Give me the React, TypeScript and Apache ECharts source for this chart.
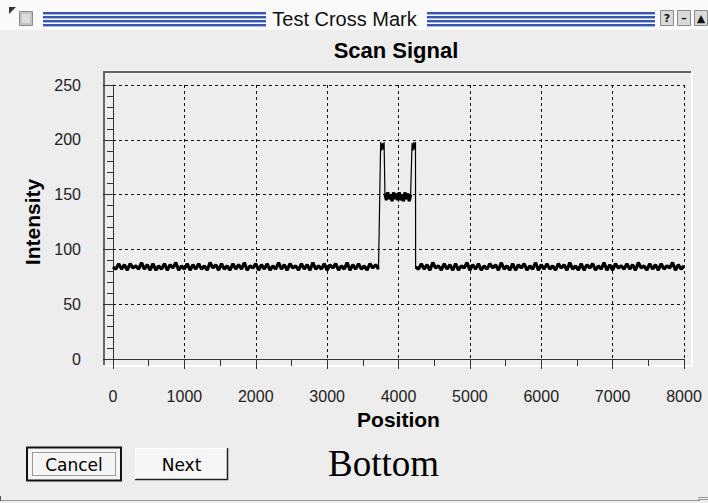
import React, { useEffect, useRef } from "react";
import * as echarts from "echarts";

// ---- Data ----
const chartTitle = "Scan Signal";
const windowTitle = "Test Cross Mark";
const xName = "Position";
const yName = "Intensity";
const xTicks = [0, 1000, 2000, 3000, 4000, 5000, 6000, 7000, 8000];
const yTicks = [0, 50, 100, 150, 200, 250];

// baseline left of the mark: start 0, sample step 40
const baseLeftStart = 0;
const baseLeftStep = 40;
const baseLeft = [
  84, 82, 87, 82, 86, 81, 87, 83, 85, 82, 88, 82, 86, 81, 87, 81, 85, 82, 87, 81,
  86, 83, 88, 81, 85, 82, 87, 81, 86, 82, 87, 82, 85, 81, 88, 83, 86, 81, 87, 82,
  85, 81, 87, 82, 86, 82, 88, 81, 85, 83, 87, 81, 86, 82, 87, 81, 85, 82, 88, 82,
  86, 81, 87, 83, 85, 81, 87, 82, 86, 81, 88, 82, 85, 82, 87, 81, 86, 83, 87, 81,
  85, 82, 88, 81, 86, 82, 87, 82, 85, 81, 87, 83, 86, 82,
];
// first edge peak
const peakLeftStart = 3750;
const peakLeftStep = 12;
const peakLeft = [198, 190, 197, 191, 198];
// plateau between the two peaks
const plateauStart = 3810;
const plateauStep = 20;
const plateau = [
  151, 145, 152, 146, 150, 144, 152, 146, 151, 145, 152, 145, 150, 144, 152, 146,
  151, 144, 150,
];
// second edge peak
const peakRightStart = 4190;
const peakRightStep = 12;
const peakRight = [197, 190, 198, 191, 198];
// baseline right of the mark
const baseRightStart = 4240;
const baseRightStep = 40;
const baseRight = [
  84, 82, 87, 82, 86, 81, 88, 83, 85, 81, 87, 82, 86, 81, 87, 81, 85, 83, 88, 81,
  86, 82, 87, 81, 85, 82, 87, 83, 86, 81, 88, 82, 85, 81, 87, 81, 86, 83, 87, 81,
  85, 82, 88, 81, 86, 82, 87, 82, 85, 81, 87, 83, 86, 81, 88, 82, 85, 81, 87, 81,
  86, 83, 87, 81, 85, 82, 88, 81, 86, 81, 87, 83, 85, 82, 87, 82, 86, 81, 88, 83,
  85, 81, 87, 82, 86, 81, 87, 82, 85, 83, 88, 81, 86, 82, 85,
];

function seg(start: number, step: number, vals: number[]) {
  return vals.map((v, i) => [start + i * step, v]);
}

export default function App() {
  const ref = useRef<HTMLDivElement>(null);
  useEffect(() => {
    if (!ref.current) return;
    const chart = echarts.init(ref.current, null, { renderer: "svg" });
    const left = seg(baseLeftStart, baseLeftStep, baseLeft);
    const pl = seg(peakLeftStart, peakLeftStep, peakLeft);
    const mid = seg(plateauStart, plateauStep, plateau);
    const pr = seg(peakRightStart, peakRightStep, peakRight);
    const right = seg(baseRightStart, baseRightStep, baseRight);
    const data = [...left, ...pl, ...mid, ...pr, ...right];
    // noisy flat parts drawn heavier so they read as a dense band
    const bands = [...left, [null, null], ...mid, [null, null], ...right];

    const labelFont = { fontFamily: "Liberation Sans", fontSize: 16, color: "#222" };
    const nameFont = { fontFamily: "Liberation Sans", fontSize: 21, fontWeight: "bold", color: "#000" };
    const stripe = (x: number, w: number) => ({
      type: "group",
      children: [12, 16, 20, 24].flatMap((y) => [
        { type: "rect", shape: { x, y, width: w, height: 2 }, style: { fill: "#3a55b2" } },
        { type: "rect", shape: { x, y: y + 2, width: w, height: 1 }, style: { fill: "#a6b8ea" } },
      ]),
    });
    const smallBox = (x: number, glyph: string) => ({
      type: "group",
      children: [
        { type: "rect", shape: { x: x + 0.5, y: 10.5, width: 13, height: 15 }, style: { fill: "#d9d9d9", stroke: "#8a8a8a", lineWidth: 1 } },
        { type: "text", x: x + 7, y: 18.5, style: { text: glyph, fontFamily: "DejaVu Sans", fontSize: 11, fontWeight: "bold", fill: "#111", align: "center", verticalAlign: "middle" } },
      ],
    });
    chart.setOption({
      animation: false,
      backgroundColor: "#ededed",
      title: {
        text: chartTitle,
        left: 396,
        top: 39,
        padding: 0,
        textAlign: "center",
        textStyle: { fontFamily: "Liberation Sans", fontSize: 22, fontWeight: "bold", color: "#000" },
      },
      grid: { left: 113, right: 24, top: 85, bottom: 144, containLabel: false },
      xAxis: {
        type: "value",
        min: 0,
        max: 8000,
        interval: 1000,
        offset: 14,
        name: xName,
        nameLocation: "middle",
        nameGap: 33,
        nameTextStyle: nameFont,
        axisLine: { show: true, lineStyle: { color: "#333", width: 1 } },
        axisTick: { show: true, length: 10, lineStyle: { color: "#333" } },
        minorTick: { show: true, splitNumber: 2, length: 7, lineStyle: { color: "#333" } },
        axisLabel: { ...labelFont, margin: 15, formatter: (v: number) => (xTicks.includes(v) ? String(v) : "") },
        splitLine: { show: true, lineStyle: { color: "#111", type: [3, 3], width: 1 } },
      },
      yAxis: {
        type: "value",
        min: 0,
        max: 250,
        interval: 50,
        offset: 15,
        name: yName,
        nameLocation: "middle",
        nameGap: 50,
        nameRotate: 90,
        nameTextStyle: nameFont,
        axisLine: { show: true, lineStyle: { color: "#333", width: 1 } },
        axisTick: { show: true, length: 10, lineStyle: { color: "#333" } },
        minorTick: { show: true, splitNumber: 5, length: 6, lineStyle: { color: "#333" } },
        axisLabel: { ...labelFont, margin: 17, formatter: (v: number) => (yTicks.includes(v) ? String(v) : "") },
        splitLine: { show: true, lineStyle: { color: "#111", type: [3, 3], width: 1 } },
      },
      series: [
        {
          type: "line",
          data,
          showSymbol: false,
          symbol: "none",
          lineStyle: { color: "#000", width: 1.2 },
          z: 3,
        },
        {
          type: "line",
          data: bands,
          connectNulls: false,
          showSymbol: false,
          symbol: "none",
          lineStyle: { color: "#000", width: 3.2, join: "bevel", cap: "butt" },
          z: 3,
        },
      ],
      graphic: [
        // title bar
        { type: "rect", shape: { x: 0, y: 0, width: 708, height: 30 }, style: { fill: "#fafafa" }, z: -1 },
        { type: "polygon", shape: { points: [[9, 7], [16, 7], [9, 14]] }, style: { fill: "#333" } },
        { type: "rect", shape: { x: 19.5, y: 11.5, width: 13, height: 14 }, style: { fill: "#c4c4c4", stroke: "#8a8a8a", lineWidth: 1 } },
        { type: "rect", shape: { x: 22, y: 14, width: 8, height: 9 }, style: { fill: "#dcdcdc" } },
        stripe(43, 223),
        stripe(427, 228),
        {
          type: "text",
          x: 344.5,
          y: 19,
          style: { text: windowTitle, fontFamily: "Liberation Sans", fontSize: 20, fill: "#111", align: "center", verticalAlign: "middle" },
        },
        smallBox(660, "?"),
        smallBox(677, "–"),
        smallBox(694, "▲"),
        // plot frame (sunken)
        { type: "polyline", shape: { points: [[104, 365], [104, 72], [691, 72]] }, style: { stroke: "#666", lineWidth: 2, fill: "none" } },
        { type: "polyline", shape: { points: [[105, 366], [692, 366], [692, 73]] }, style: { stroke: "#ffffff", lineWidth: 2, fill: "none" } },
        // Cancel button (default)
        { type: "rect", shape: { x: 27, y: 447.5, width: 94, height: 33 }, style: { fill: "#f4f4f4", stroke: "#111", lineWidth: 2 } },
        { type: "rect", shape: { x: 32.5, y: 452.5, width: 83, height: 23 }, style: { fill: "none", stroke: "#444", lineWidth: 1, lineDash: [1, 1] } },
        { type: "text", x: 74, y: 465, style: { text: "Cancel", fontFamily: "DejaVu Sans", fontSize: 17, fill: "#000", align: "center", verticalAlign: "middle" } },
        // Next button
        { type: "rect", shape: { x: 135, y: 448, width: 93, height: 32 }, style: { fill: "#f6f6f6" } },
        { type: "polyline", shape: { points: [[135, 479.5], [227.5, 479.5], [227.5, 448]] }, style: { stroke: "#222", lineWidth: 1.5, fill: "none" } },
        { type: "polyline", shape: { points: [[135.5, 479], [135.5, 448.5], [227, 448.5]] }, style: { stroke: "#ffffff", lineWidth: 1, fill: "none" } },
        { type: "text", x: 181.5, y: 465, style: { text: "Next", fontFamily: "DejaVu Sans", fontSize: 17, fill: "#000", align: "center", verticalAlign: "middle" } },
        // Bottom label
        { type: "text", x: 383.5, y: 463, style: { text: "Bottom", fontFamily: "Liberation Serif", fontSize: 37, fill: "#000", align: "center", verticalAlign: "middle" } },
        // bottom window edge
        { type: "line", shape: { x1: 0, y1: 500.5, x2: 700, y2: 500.5 }, style: { stroke: "#9a9a9a", lineWidth: 1 } },
        { type: "line", shape: { x1: 0.5, y1: 496, x2: 0.5, y2: 501 }, style: { stroke: "#555", lineWidth: 1 } },
        { type: "line", shape: { x1: 698, y1: 497.5, x2: 708, y2: 497.5 }, style: { stroke: "#999", lineWidth: 1 } },
        { type: "line", shape: { x1: 698, y1: 499.5, x2: 708, y2: 499.5 }, style: { stroke: "#999", lineWidth: 1 } },
      ],
    });
    return () => chart.dispose();
  }, []);
  return <div ref={ref} style={{ position: "fixed", left: 0, top: 0, width: 708, height: 503 }} />;
}
